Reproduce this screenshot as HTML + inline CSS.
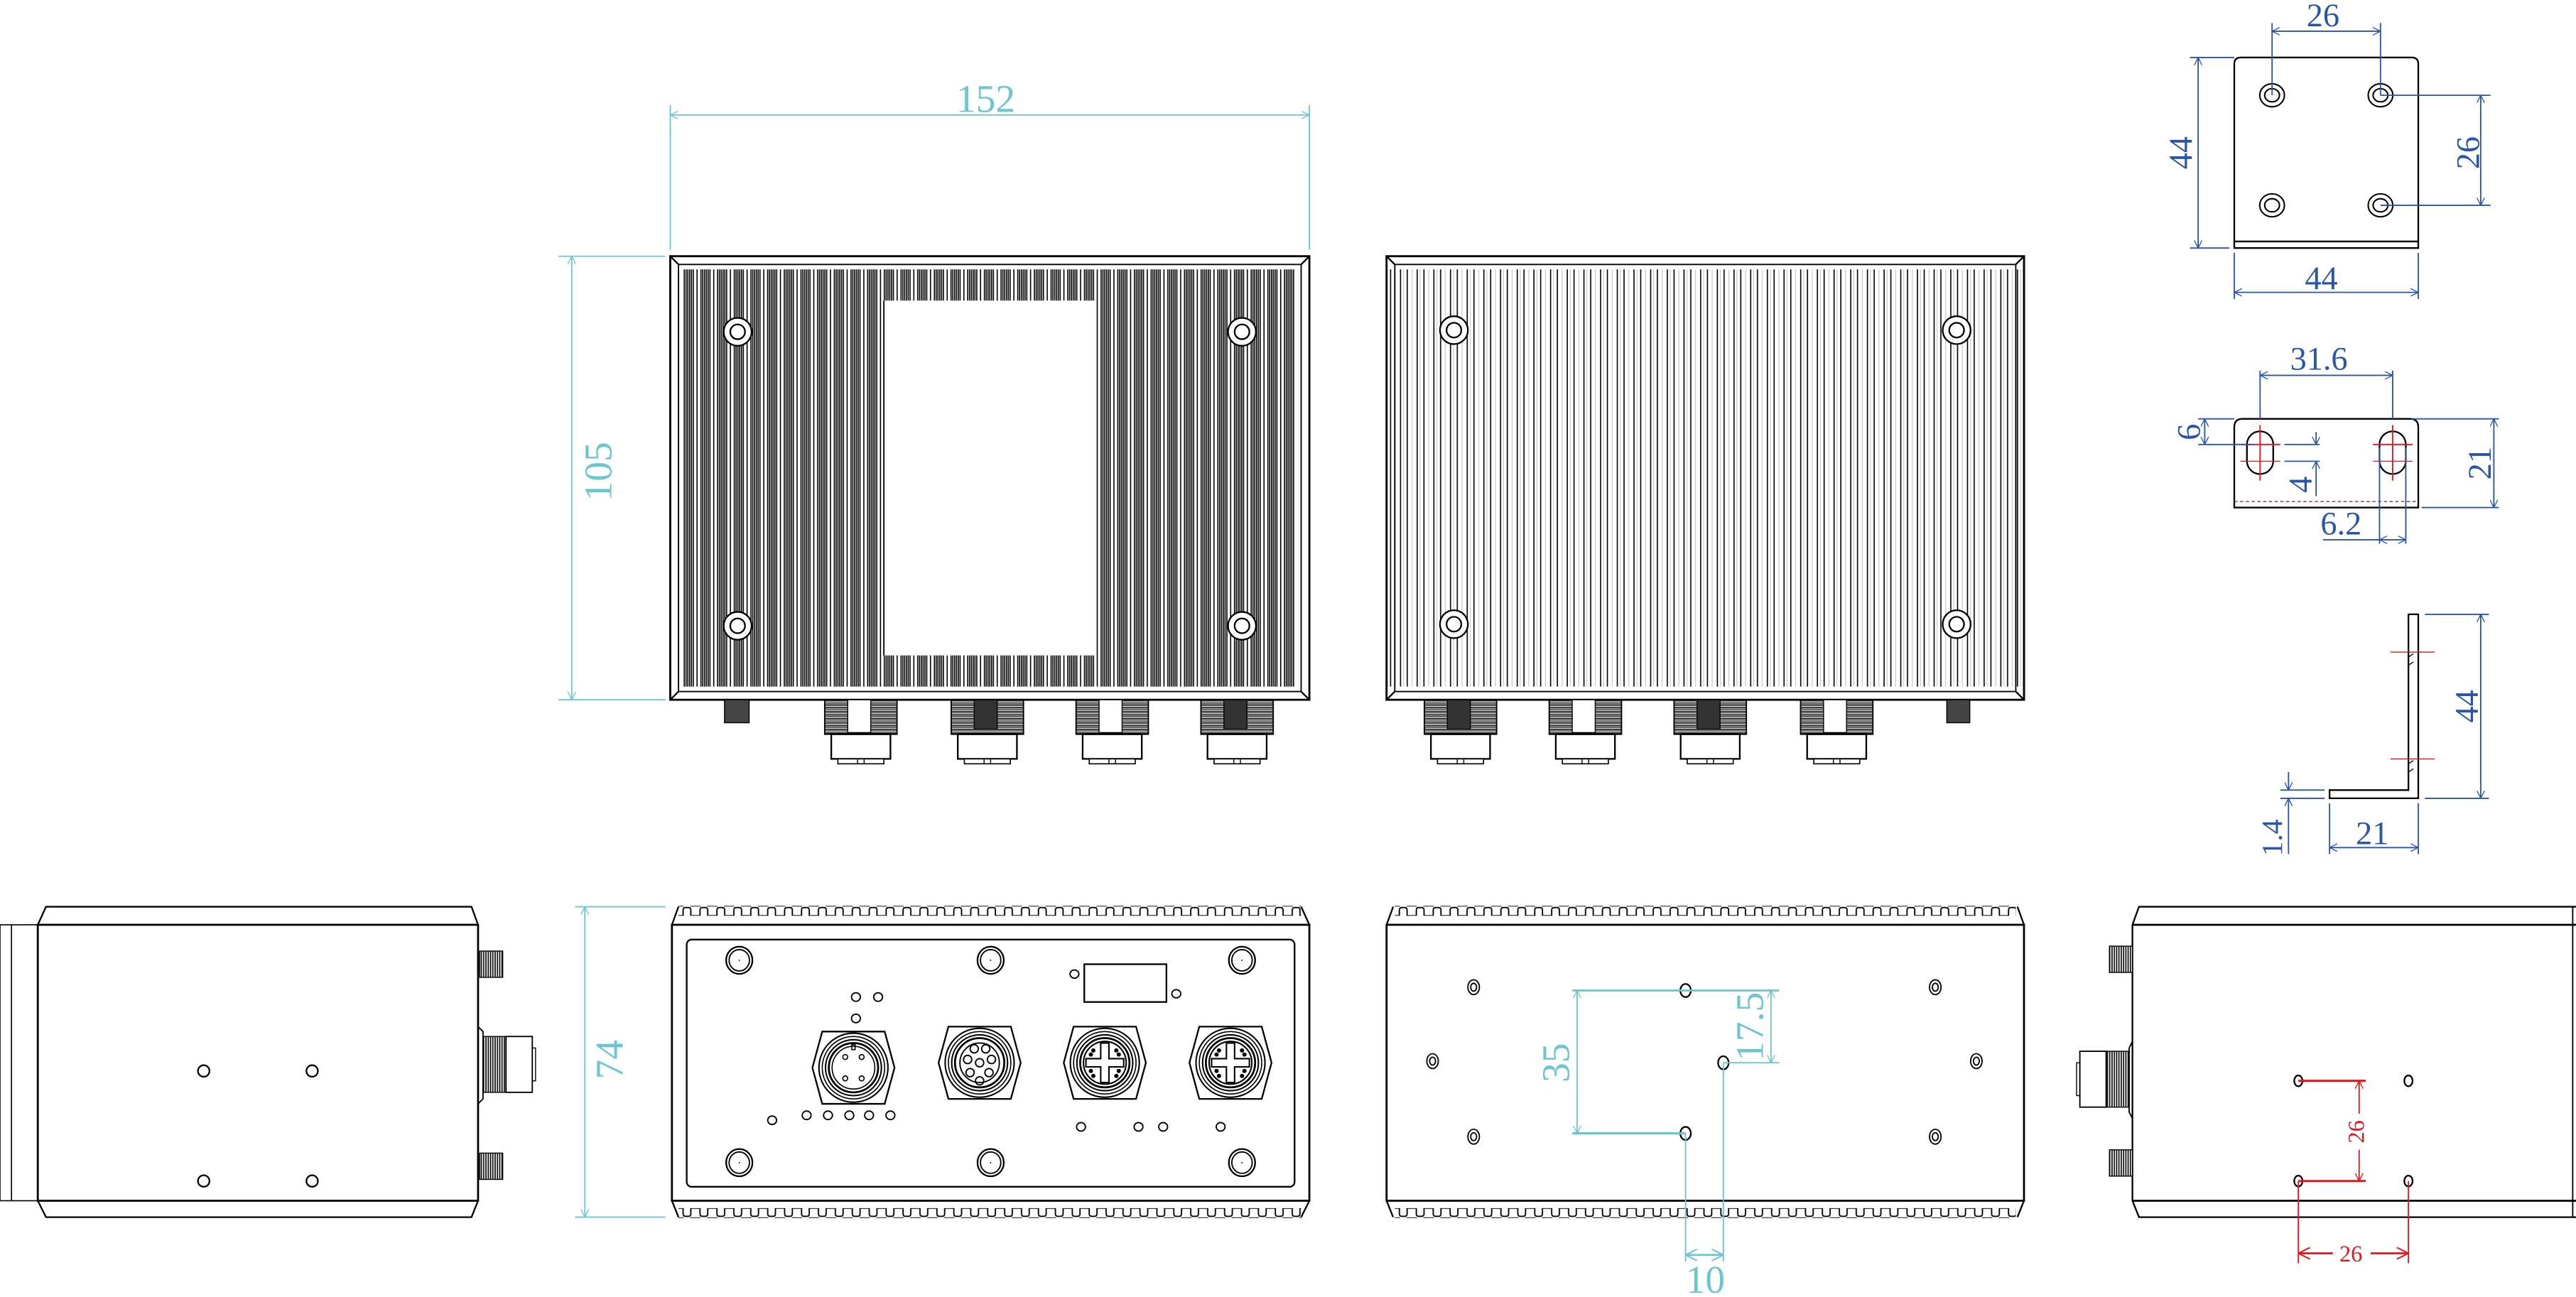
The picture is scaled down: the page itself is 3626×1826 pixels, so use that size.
<!DOCTYPE html>
<html><head><meta charset="utf-8"><style>
html,body{margin:0;padding:0;background:#fff;}
svg{display:block;}
text{font-family:"Liberation Serif",serif;}
</style></head><body>
<svg width="3626" height="1826" viewBox="0 0 1568 789.6" preserveAspectRatio="none" xmlns="http://www.w3.org/2000/svg">
<defs>
<pattern id="pd" patternUnits="userSpaceOnUse" x="416" y="0" width="10.15" height="20">
<rect width="10.15" height="20" fill="#fff"/>
<g stroke="#000" stroke-width="0.7">
<line x1="0.5" y1="0" x2="0.5" y2="20"/><line x1="1.6" y1="0" x2="1.6" y2="20"/><line x1="2.7" y1="0" x2="2.7" y2="20"/><line x1="3.8" y1="0" x2="3.8" y2="20"/><line x1="4.9" y1="0" x2="4.9" y2="20"/><line x1="6" y1="0" x2="6" y2="20"/><line x1="8.3" y1="0" x2="8.3" y2="20"/>
</g></pattern>
<pattern id="pl" patternUnits="userSpaceOnUse" x="852" y="0" width="10.15" height="20">
<rect width="10.15" height="20" fill="#fff"/>
<g stroke="#bbb" stroke-width="0.4"><line x1="2.3" y1="0" x2="2.3" y2="20"/><line x1="7.5" y1="0" x2="7.5" y2="20"/></g>
<g stroke="#000" stroke-width="0.7"><line x1="0.5" y1="0" x2="0.5" y2="20"/><line x1="4.6" y1="0" x2="4.6" y2="20"/></g>
</pattern>
<pattern id="teeth" patternUnits="userSpaceOnUse" x="414" y="552" width="10.3" height="6">
<path d="M0,5.5 H1.8 V2 Q1.8,0.5 3.3,0.5 H5 Q6.5,0.5 6.5,2 V5.5 H10.3" fill="none" stroke="#000" stroke-width="0.8"/>
</pattern>
<pattern id="teeth2" patternUnits="userSpaceOnUse" x="850" y="552" width="10.3" height="6">
<path d="M0,5.5 H1.8 V2 Q1.8,0.5 3.3,0.5 H5 Q6.5,0.5 6.5,2 V5.5 H10.3" fill="none" stroke="#000" stroke-width="0.8"/>
</pattern>
<pattern id="thr" patternUnits="userSpaceOnUse" width="4" height="2.2">
<rect width="4" height="2.2" fill="#fff"/><line x1="0" y1="0.4" x2="4" y2="0.4" stroke="#000" stroke-width="0.7"/><line x1="0" y1="1.4" x2="4" y2="1.4" stroke="#000" stroke-width="0.5"/>
</pattern>
<pattern id="vthr" patternUnits="userSpaceOnUse" width="1.4" height="4">
<rect width="1.4" height="4" fill="#fff"/><line x1="0.4" y1="0" x2="0.4" y2="4" stroke="#000" stroke-width="0.7"/>
</pattern>
<g id="conn">
<rect x="-22" y="0" width="44" height="21" fill="url(#thr)" stroke="#000" stroke-width="0.8"/>
<rect x="-8" y="0" width="14" height="20" fill="#fff" stroke="#000" stroke-width="0.6"/>
<rect x="-18" y="21" width="36" height="15" fill="#fff" stroke="#000" stroke-width="1"/>
<rect x="-14" y="36" width="28" height="3" fill="#fff" stroke="#000" stroke-width="0.7"/>
<line x1="-2" y1="36" x2="-2" y2="39" stroke="#000" stroke-width="0.6"/><line x1="2" y1="36" x2="2" y2="39" stroke="#000" stroke-width="0.6"/>
</g>
<g id="connD">
<rect x="-22" y="0" width="44" height="21" fill="url(#thr)" stroke="#000" stroke-width="0.8"/>
<rect x="-8" y="0" width="14" height="18" fill="#333" stroke="#000" stroke-width="0.6"/>
<rect x="-18" y="21" width="36" height="15" fill="#fff" stroke="#000" stroke-width="1"/>
<rect x="-14" y="36" width="28" height="3" fill="#fff" stroke="#000" stroke-width="0.7"/>
<line x1="-2" y1="36" x2="-2" y2="39" stroke="#000" stroke-width="0.6"/><line x1="2" y1="36" x2="2" y2="39" stroke="#000" stroke-width="0.6"/>
</g>
<g id="scr"><circle r="8.5" fill="#fff" stroke="#000" stroke-width="1"/><circle r="4.5" fill="#fff" stroke="#000" stroke-width="1"/></g>
<g id="fscr"><ellipse rx="8" ry="8.3" fill="none" stroke="#000" stroke-width="1"/><ellipse rx="6.2" ry="6.5" fill="none" stroke="#000" stroke-width="0.8"/><circle r="0.4" fill="#000"/></g>
<g id="hex" fill="none" stroke="#000">
<polygon points="-25,0 -19,-22 19,-22 25,0 19,22 -19,22" stroke-width="1"/>
<circle r="21" stroke-width="0.9"/><circle r="19" stroke-width="0.7"/><circle r="17" stroke-width="0.9"/><circle r="15" stroke-width="1.2"/>
</g>
<marker id="ab" viewBox="0 0 10 10" refX="10" refY="5" markerWidth="6" markerHeight="6" orient="auto-start-reverse"><path d="M0,0 L10,5 L0,10" fill="none" stroke="#2a55a8" stroke-width="1.2"/></marker>
<marker id="ac" viewBox="0 0 10 10" refX="10" refY="5" markerWidth="6" markerHeight="6" orient="auto-start-reverse"><path d="M0,0 L10,5 L0,10" fill="none" stroke="#6cc6cf" stroke-width="1.2"/></marker>
<marker id="ar" viewBox="0 0 10 10" refX="10" refY="5" markerWidth="6" markerHeight="6" orient="auto-start-reverse"><path d="M0,0 L10,5 L0,10" fill="none" stroke="#e8141c" stroke-width="1.2"/></marker>
</defs>

<!-- ========== TOP LEFT VIEW ========== -->
<g stroke="#000" fill="none">
<rect x="408" y="156" width="389" height="270" fill="url(#pd)" stroke-width="1.2"/>
<rect x="408" y="156" width="389" height="8" fill="#fff" stroke="none"/>
<rect x="408" y="418" width="389" height="8" fill="#fff" stroke="none"/>
<rect x="408" y="156" width="8" height="270" fill="#fff" stroke="none"/>
<rect x="789" y="156" width="8" height="270" fill="#fff" stroke="none"/>
<rect x="408" y="156" width="389" height="270" stroke-width="1.2"/>
<rect x="413" y="161" width="379" height="260" stroke-width="0.8"/>
<line x1="408" y1="156" x2="413" y2="161"/><line x1="797" y1="156" x2="792" y2="161"/><line x1="408" y1="426" x2="413" y2="421"/><line x1="797" y1="426" x2="792" y2="421"/>
<rect x="538" y="183" width="129" height="216" fill="#fff" stroke="none"/>
<line x1="538" y1="183" x2="538" y2="399" stroke-width="0.8"/>
</g>
<use href="#scr" x="449" y="202"/><use href="#scr" x="756" y="202"/><use href="#scr" x="449" y="381"/><use href="#scr" x="756" y="381"/>
<rect x="441" y="426" width="15" height="14" fill="#444" stroke="#000" stroke-width="0.6"/>
<use href="#conn" x="524" y="426"/><use href="#connD" x="601" y="426"/><use href="#conn" x="677" y="426"/><use href="#connD" x="753" y="426"/>

<!-- dims 152 / 105 -->
<g stroke="#6cc6cf" stroke-width="0.8" fill="none">
<line x1="408" y1="64" x2="408" y2="152"/><line x1="797" y1="64" x2="797" y2="152"/>
<line x1="408" y1="70" x2="797" y2="70" marker-start="url(#ac)" marker-end="url(#ac)"/>
<line x1="340" y1="156" x2="405" y2="156"/><line x1="340" y1="426" x2="405" y2="426"/>
<line x1="348" y1="156" x2="348" y2="426" marker-start="url(#ac)" marker-end="url(#ac)"/>
</g>
<text x="600" y="68" font-size="24" fill="#6cc6cf" text-anchor="middle">152</text>
<text transform="translate(372,287) rotate(-90)" font-size="24" fill="#6cc6cf" text-anchor="middle">105</text>

<!-- ========== TOP RIGHT VIEW ========== -->
<g stroke="#000" fill="none">
<rect x="844" y="156" width="388" height="270" fill="url(#pl)" stroke-width="1.2"/>
<rect x="844" y="156" width="388" height="8" fill="#fff" stroke="none"/>
<rect x="844" y="418" width="388" height="8" fill="#fff" stroke="none"/>
<rect x="844" y="156" width="388" height="270" stroke-width="1.2"/>
<rect x="849" y="161" width="378" height="260" stroke-width="0.8"/>
<line x1="844" y1="156" x2="849" y2="161"/><line x1="1232" y1="156" x2="1227" y2="161"/><line x1="844" y1="426" x2="849" y2="421"/><line x1="1232" y1="426" x2="1227" y2="421"/>
</g>
<use href="#scr" x="885" y="201"/><use href="#scr" x="1191" y="201"/><use href="#scr" x="885" y="380"/><use href="#scr" x="1191" y="380"/>
<rect x="1185" y="426" width="14" height="14" fill="#444" stroke="#000" stroke-width="0.6"/>
<use href="#connD" x="889" y="426"/><use href="#conn" x="965" y="426"/><use href="#connD" x="1041" y="426"/><use href="#conn" x="1118" y="426"/>

<!-- ========== BRACKET TOP ========== -->
<g stroke="#000" fill="none" stroke-width="1">
<path d="M1360,151 V39 Q1360,35 1364,35 H1468 Q1472,35 1472,39 V151 Z"/>
<line x1="1360" y1="147" x2="1472" y2="147"/>
</g>
<g fill="none" stroke="#000" stroke-width="0.9">
<ellipse cx="1383" cy="58" rx="7.5" ry="7"/><ellipse cx="1383" cy="58" rx="4.5" ry="4"/>
<ellipse cx="1449" cy="58" rx="7.5" ry="7"/><ellipse cx="1449" cy="58" rx="4.5" ry="4"/>
<ellipse cx="1383" cy="125" rx="7.5" ry="7"/><ellipse cx="1383" cy="125" rx="4.5" ry="4"/>
<ellipse cx="1449" cy="125" rx="7.5" ry="7"/><ellipse cx="1449" cy="125" rx="4.5" ry="4"/>
</g>
<g stroke="#2a55a8" stroke-width="0.8" fill="none">
<line x1="1383" y1="14" x2="1383" y2="58"/><line x1="1449" y1="14" x2="1449" y2="58"/>
<line x1="1383" y1="19" x2="1449" y2="19" marker-start="url(#ab)" marker-end="url(#ab)"/>
<line x1="1333" y1="35" x2="1360" y2="35"/><line x1="1333" y1="151" x2="1357" y2="151"/>
<line x1="1338" y1="35" x2="1338" y2="151" marker-start="url(#ab)" marker-end="url(#ab)"/>
<line x1="1449" y1="58" x2="1516" y2="58"/><line x1="1449" y1="125" x2="1516" y2="125"/>
<line x1="1510" y1="58" x2="1510" y2="125" marker-start="url(#ab)" marker-end="url(#ab)"/>
<line x1="1360" y1="154" x2="1360" y2="182"/><line x1="1472" y1="154" x2="1472" y2="182"/>
<line x1="1360" y1="178" x2="1472" y2="178" marker-start="url(#ab)" marker-end="url(#ab)"/>
</g>
<g fill="#2a55a8" font-size="20" text-anchor="middle">
<text x="1414" y="16">26</text>
<text transform="translate(1334,93) rotate(-90)">44</text>
<text transform="translate(1509,93) rotate(-90)">26</text>
<text x="1413" y="176">44</text>
</g>

<!-- ========== BRACKET MIDDLE ========== -->
<g stroke="#000" fill="none" stroke-width="1">
<path d="M1360,309 V260 Q1360,255 1365,255 H1467 Q1472,255 1472,260 V309 Z"/>
<rect x="1367.7" y="262.6" width="16" height="26" rx="8" ry="8"/>
<rect x="1448.4" y="262.6" width="16" height="26" rx="8" ry="8"/>
</g>
<line x1="1360" y1="305.3" x2="1472" y2="305.3" stroke="#7a3a3a" stroke-width="0.6" stroke-dasharray="2,1.5"/>
<g stroke="#e8141c" stroke-width="0.8">
<line x1="1363.7" y1="270.6" x2="1388" y2="270.6"/><line x1="1363.7" y1="280.8" x2="1388" y2="280.8" stroke-width="0.5"/>
<line x1="1375.7" y1="258.8" x2="1375.7" y2="292.6"/>
<line x1="1444.4" y1="270.6" x2="1468.6" y2="270.6"/><line x1="1444.4" y1="280.8" x2="1468.6" y2="280.8" stroke-width="0.5"/>
<line x1="1456.4" y1="258.8" x2="1456.4" y2="292.6"/>
</g>
<g stroke="#2a55a8" stroke-width="0.8" fill="none">
<line x1="1375.7" y1="225.6" x2="1375.7" y2="255"/><line x1="1456.4" y1="225.6" x2="1456.4" y2="255"/>
<line x1="1375.7" y1="228.5" x2="1456.4" y2="228.5" marker-start="url(#ab)" marker-end="url(#ab)"/>
<line x1="1338" y1="255" x2="1360" y2="255"/><line x1="1338" y1="270.6" x2="1372" y2="270.6"/>
<line x1="1342" y1="255" x2="1342" y2="270.6" marker-start="url(#ab)" marker-end="url(#ab)"/>
<line x1="1390.5" y1="270.6" x2="1412" y2="270.6"/><line x1="1390.5" y1="280.8" x2="1412" y2="280.8"/>
<line x1="1409.8" y1="263" x2="1409.8" y2="270.6" marker-end="url(#ab)"/>
<line x1="1409.8" y1="302" x2="1409.8" y2="280.8" marker-end="url(#ab)"/>
<line x1="1468" y1="255" x2="1521" y2="255"/><line x1="1474" y1="309" x2="1521" y2="309"/>
<line x1="1518" y1="255" x2="1518" y2="309" marker-start="url(#ab)" marker-end="url(#ab)"/>
<line x1="1448.4" y1="272.4" x2="1448.4" y2="331"/><line x1="1464.4" y1="272.4" x2="1464.4" y2="331"/>
<line x1="1414" y1="328.6" x2="1448.4" y2="328.6"/>
<line x1="1448.4" y1="328.6" x2="1464.4" y2="328.6" marker-start="url(#ab)" marker-end="url(#ab)"/>
</g>
<g fill="#2a55a8" font-size="20" text-anchor="middle">
<text x="1411.5" y="225">31.6</text>
<text transform="translate(1339,263) rotate(-90)">6</text>
<text transform="translate(1407,295) rotate(-90)">4</text>
<text transform="translate(1516,282) rotate(-90)">21</text>
<text x="1425" y="325.5">6.2</text>
</g>

<!-- ========== BRACKET SIDE ========== -->
<g stroke="#000" fill="none" stroke-width="1">
<path d="M1466,374 H1472 V486 H1418 V481 H1466 Z"/>
<line x1="1466" y1="400" x2="1469" y2="398" stroke-width="0.6"/><line x1="1466" y1="405" x2="1469" y2="403" stroke-width="0.6"/>
<line x1="1466" y1="465" x2="1469" y2="463" stroke-width="0.6"/><line x1="1466" y1="470" x2="1469" y2="468" stroke-width="0.6"/>
</g>
<g stroke="#e8141c" stroke-width="0.6"><line x1="1455" y1="397" x2="1482" y2="397"/><line x1="1455" y1="462" x2="1482" y2="462"/></g>
<g stroke="#2a55a8" stroke-width="0.8" fill="none">
<line x1="1476" y1="374" x2="1515" y2="374"/><line x1="1476" y1="486" x2="1515" y2="486"/>
<line x1="1510" y1="374" x2="1510" y2="486" marker-start="url(#ab)" marker-end="url(#ab)"/>
<line x1="1418" y1="489" x2="1418" y2="520"/><line x1="1472" y1="489" x2="1472" y2="520"/>
<line x1="1418" y1="516" x2="1472" y2="516" marker-start="url(#ab)" marker-end="url(#ab)"/>
<line x1="1388" y1="481" x2="1415" y2="481"/><line x1="1388" y1="486" x2="1415" y2="486"/>
<line x1="1393" y1="470" x2="1393" y2="481" marker-end="url(#ab)"/>
<line x1="1393" y1="520" x2="1393" y2="486" marker-end="url(#ab)"/>
</g>
<g fill="#2a55a8" font-size="20" text-anchor="middle">
<text transform="translate(1508,430) rotate(-90)">44</text>
<text x="1444" y="514">21</text>
<text transform="translate(1389,510) rotate(-90)" font-size="18">1.4</text>
</g>

<!-- ========== BOTTOM LEFT SIDE VIEW ========== -->
<g stroke="#000" fill="none" stroke-width="1">
<path d="M23,563 L28,552 H287 L291,563"/>
<path d="M23,731 L28,741 H287 L291,731"/>
<rect x="23" y="563" width="268" height="168" stroke-width="1.2"/>
<rect x="0" y="563" width="23" height="168" stroke-width="0.7"/>
<line x1="7" y1="563" x2="7" y2="731" stroke-width="0.7"/>
<circle cx="124" cy="652" r="3.5"/><circle cx="190" cy="652" r="3.5"/><circle cx="124" cy="719" r="3.5"/><circle cx="190" cy="719" r="3.5"/>
<rect x="292" y="579" width="14" height="16" fill="url(#vthr)" stroke-width="0.6"/>
<rect x="292" y="702" width="14" height="16" fill="url(#vthr)" stroke-width="0.6"/>
<path d="M291,625 L294,628 V669 L291,672" stroke-width="0.8"/>
<rect x="294" y="631" width="14" height="34" fill="url(#vthr)" stroke-width="0.6"/>
<rect x="308" y="631" width="16" height="34" fill="#fff" stroke-width="0.8"/>
<rect x="324" y="638" width="2" height="20" stroke-width="0.6"/>
</g>

<!-- ========== BOTTOM FRONT VIEW ========== -->
<g stroke="#000" fill="none">
<rect x="413" y="551.5" width="379" height="6" fill="url(#teeth)" stroke="none"/>
<g transform="translate(0,1293) scale(1,-1)"><rect x="413" y="551.5" width="379" height="6" fill="url(#teeth)" stroke="none"/></g>
<path d="M409,563 L413,552 M797,563 L792,552 M409,731 L413,741 M797,731 L792,741" stroke-width="1"/>
<rect x="409" y="563" width="388" height="168" stroke-width="1.2"/>
<rect x="418" y="572" width="370" height="150.5" rx="3" stroke-width="1"/>
<rect x="660" y="587" width="50" height="23" stroke-width="1"/>
<ellipse cx="654" cy="593" rx="2.7" ry="2.5" stroke-width="0.8"/><ellipse cx="716" cy="605" rx="2.7" ry="2.5" stroke-width="0.8"/>
<g stroke-width="0.8">
<ellipse cx="521" cy="607" rx="2.7" ry="2.6"/><ellipse cx="534.5" cy="607" rx="2.7" ry="2.6"/><ellipse cx="521" cy="620" rx="2.7" ry="2.6"/>
<ellipse cx="470" cy="682" rx="2.7" ry="2.6"/><ellipse cx="491" cy="679" rx="2.7" ry="2.6"/><ellipse cx="504" cy="679" rx="2.7" ry="2.6"/><ellipse cx="517" cy="679" rx="2.7" ry="2.6"/><ellipse cx="529" cy="679" rx="2.7" ry="2.6"/><ellipse cx="542" cy="679" rx="2.7" ry="2.6"/>
<ellipse cx="658" cy="686" rx="2.7" ry="2.6"/><ellipse cx="693" cy="686" rx="2.7" ry="2.6"/><ellipse cx="708" cy="686" rx="2.7" ry="2.6"/><ellipse cx="743" cy="686" rx="2.7" ry="2.6"/>
</g>
</g>
<use href="#fscr" x="450" y="584.6"/><use href="#fscr" x="603" y="584.6"/><use href="#fscr" x="756" y="584.6"/>
<use href="#fscr" x="450" y="707.8"/><use href="#fscr" x="603" y="707.8"/><use href="#fscr" x="756" y="707.8"/>
<use href="#hex" x="519.5" y="650"/>
<g fill="none" stroke="#000" stroke-width="0.7">
<circle cx="519.5" cy="650" r="13"/>
<circle cx="514.5" cy="643.5" r="1.5"/><circle cx="524.5" cy="643.5" r="1.5"/><circle cx="514.5" cy="656.5" r="1.5"/><circle cx="524.5" cy="656.5" r="1.5"/>
<rect x="518.5" y="636" width="2" height="3"/>
</g>
<use href="#hex" x="596.3" y="647"/>
<g fill="none" stroke="#000" stroke-width="0.8">
<circle cx="596.3" cy="647" r="12"/>
<circle cx="596.3" cy="647" r="2.5"/>
<circle cx="593" cy="638.5" r="2.5"/><circle cx="600" cy="638.5" r="2.5"/><circle cx="589" cy="645" r="2.5"/><circle cx="603.5" cy="645" r="2.5"/><circle cx="590.5" cy="653" r="2.5"/><circle cx="602" cy="653" r="2.5"/><circle cx="596.3" cy="658" r="2.5"/>
</g>
<g id="xc">
<use href="#hex" x="672.5" y="647"/>
<g fill="none" stroke="#000" stroke-width="0.9">
<circle cx="672.5" cy="647" r="13"/>
<path d="M670,635 V644.5 H661 V649.5 H670 V659 H675 V649.5 H684 V644.5 H675 V635 Z"/>
</g>
<g fill="#000"><circle cx="665.5" cy="639.5" r="1.3"/><circle cx="679.5" cy="639.5" r="1.3"/><circle cx="664" cy="642" r="1.3"/><circle cx="681" cy="642" r="1.3"/><circle cx="664" cy="652" r="1.3"/><circle cx="681" cy="652" r="1.3"/><circle cx="665.5" cy="655" r="1.3"/><circle cx="679.5" cy="655" r="1.3"/></g>
</g>
<use href="#xc" x="76.5" y="0"/>

<!-- dim 74 -->
<g stroke="#6cc6cf" stroke-width="0.8" fill="none">
<line x1="350" y1="552" x2="405" y2="552"/><line x1="350" y1="741" x2="405" y2="741"/>
<line x1="356" y1="552" x2="356" y2="741" marker-start="url(#ac)" marker-end="url(#ac)"/>
</g>
<text transform="translate(379,645) rotate(-90)" font-size="24" fill="#6cc6cf" text-anchor="middle">74</text>

<!-- ========== BOTTOM BACK VIEW ========== -->
<g stroke="#000" fill="none">
<rect x="849" y="551.5" width="378" height="6" fill="url(#teeth2)" stroke="none"/>
<g transform="translate(0,1293) scale(1,-1)"><rect x="849" y="551.5" width="378" height="6" fill="url(#teeth2)" stroke="none"/></g>
<path d="M844,563 L848,552 M1232,563 L1228,552 M844,731 L848,741 M1232,731 L1228,741" stroke-width="1"/>
<rect x="844" y="563" width="388" height="168" stroke-width="1.2"/>
<g stroke-width="0.8">
<ellipse cx="897" cy="601" rx="3.5" ry="4.5"/><ellipse cx="897" cy="601" rx="1.8" ry="2.4"/>
<ellipse cx="1178" cy="601" rx="3.5" ry="4.5"/><ellipse cx="1178" cy="601" rx="1.8" ry="2.4"/>
<ellipse cx="872" cy="646" rx="3.5" ry="4.5"/><ellipse cx="872" cy="646" rx="1.8" ry="2.4"/>
<ellipse cx="1203" cy="646" rx="3.5" ry="4.5"/><ellipse cx="1203" cy="646" rx="1.8" ry="2.4"/>
<ellipse cx="897" cy="692" rx="3.5" ry="4.5"/><ellipse cx="897" cy="692" rx="1.8" ry="2.4"/>
<ellipse cx="1178" cy="692" rx="3.5" ry="4.5"/><ellipse cx="1178" cy="692" rx="1.8" ry="2.4"/>
</g>
<g stroke-width="1"><ellipse cx="1026" cy="603" rx="3.2" ry="4"/><ellipse cx="1049" cy="647" rx="3.2" ry="4"/><ellipse cx="1026" cy="690" rx="3.2" ry="4"/></g>
</g>
<g stroke="#6cc6cf" stroke-width="0.8" fill="none">
<line x1="957" y1="603" x2="1083" y2="603" stroke-width="1.2"/>
<line x1="957" y1="690" x2="1026" y2="690" stroke-width="1.4"/>
<line x1="960" y1="603" x2="960" y2="690" marker-start="url(#ac)" marker-end="url(#ac)"/>
<line x1="1049" y1="647" x2="1083" y2="647"/>
<line x1="1078" y1="603" x2="1078" y2="647" marker-start="url(#ac)" marker-end="url(#ac)"/>
<line x1="1026" y1="690" x2="1026" y2="768"/><line x1="1049" y1="647" x2="1049" y2="768"/>
<line x1="1026" y1="764" x2="1049" y2="764" marker-start="url(#ac)" marker-end="url(#ac)" stroke-width="1.2"/>
</g>
<g fill="#6cc6cf" font-size="24" text-anchor="middle">
<text transform="translate(955,647) rotate(-90)">35</text>
<text transform="translate(1073,625) rotate(-90)">17.5</text>
<text x="1038" y="787">10</text>
</g>

<!-- ========== BOTTOM RIGHT SIDE VIEW ========== -->
<g stroke="#000" fill="none" stroke-width="1">
<path d="M1298,563 L1302,552 H1568"/>
<path d="M1298,731 L1302,741 H1568"/>
<line x1="1298" y1="563" x2="1568" y2="563" stroke-width="1.2"/>
<line x1="1298" y1="731" x2="1568" y2="731" stroke-width="1.2"/>
<line x1="1298" y1="563" x2="1298" y2="731" stroke-width="1"/>
<line x1="1566" y1="552" x2="1566" y2="741" stroke-width="0.8"/>
<rect x="1284" y="576" width="14" height="16" fill="url(#vthr)" stroke-width="0.6"/>
<rect x="1284" y="700" width="14" height="16" fill="url(#vthr)" stroke-width="0.6"/>
<path d="M1298,634 L1296,638 V677 L1298,681" stroke-width="0.8"/>
<rect x="1282" y="640" width="14" height="34" fill="url(#vthr)" stroke-width="0.6"/>
<rect x="1266" y="640" width="16" height="34" fill="#fff" stroke-width="0.8"/>
<rect x="1264" y="647" width="2" height="20" stroke-width="0.6"/>
<ellipse cx="1399" cy="658" rx="2.5" ry="3.3"/><ellipse cx="1466" cy="658" rx="2.5" ry="3.3"/>
<ellipse cx="1399" cy="719" rx="2.5" ry="3.3"/><ellipse cx="1466" cy="719" rx="2.5" ry="3.3"/>
</g>
<g stroke="#e8141c" stroke-width="0.8" fill="none">
<line x1="1399" y1="658" x2="1440" y2="658" stroke-width="1.3"/><line x1="1399" y1="719" x2="1440" y2="719" stroke-width="1.3"/>
<line x1="1436" y1="658" x2="1436" y2="678" marker-start="url(#ar)"/>
<line x1="1436" y1="700" x2="1436" y2="719" marker-end="url(#ar)"/>
<line x1="1399" y1="719" x2="1399" y2="769"/><line x1="1466" y1="719" x2="1466" y2="769"/>
<line x1="1399" y1="763" x2="1420" y2="763" marker-start="url(#ar)" stroke-width="1.2"/>
<line x1="1443" y1="763" x2="1466" y2="763" marker-end="url(#ar)" stroke-width="1.2"/>
</g>
<g fill="#e8141c" font-size="14" text-anchor="middle">
<text transform="translate(1439,689) rotate(-90)">26</text>
<text x="1431" y="768">26</text>
</g>
</svg>
</body></html>
